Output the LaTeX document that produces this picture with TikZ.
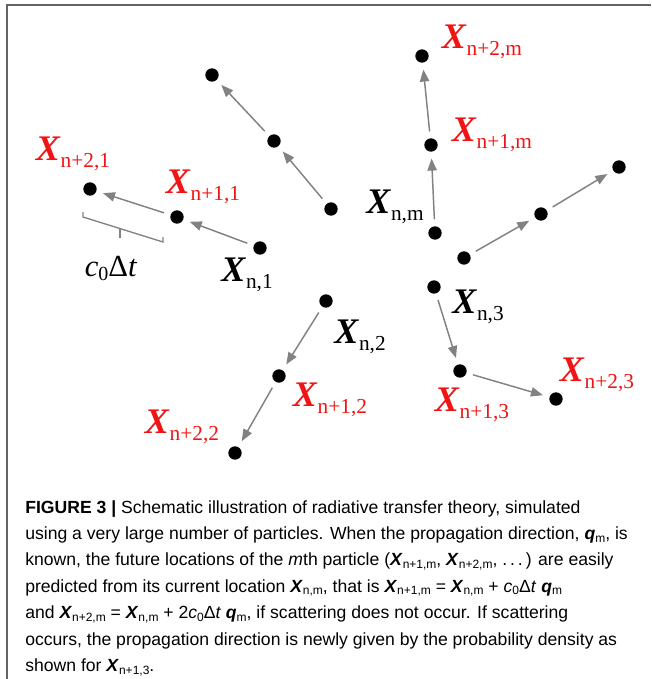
\documentclass[tikz,border=0pt]{standalone}
\usepackage{fontspec}
\setmainfont{Liberation Serif}
\newfontfamily\capfont{Liberation Sans}
\usetikzlibrary{arrows.meta}

\definecolor{arrgray}{RGB}{130,130,130}
\definecolor{framegray}{RGB}{100,100,100}
\definecolor{labred}{RGB}{240,20,20}

% particle labels and caption symbols
\newcommand{\Xn}[1]{\textbf{\textit{X}}\raisebox{-5pt}{\fontsize{16}{16}\selectfont #1}}
\newcommand{\capsub}[1]{\raisebox{-2pt}{\fontsize{9}{9}\selectfont #1}}
\newcommand{\cX}[1]{\textbf{\textit{X}}\capsub{#1}}
\newcommand{\cq}[1]{\textbf{\textit{q}}\capsub{#1}}

\begin{document}
\begin{tikzpicture}[x=0.75pt, y=-0.75pt,
    dot/.style={circle, fill=black, inner sep=0pt, minimum size=10pt},
    move/.style={-{Triangle[length=9pt,width=7pt]}, draw=arrgray, fill=arrgray, line width=1.1pt, shorten <=5pt, shorten >=5pt},
    lab/.style={font=\fontsize{27}{27}\selectfont, inner sep=0pt},
    now/.style={lab, text=black},
    next/.style={lab, text=labred}
]
\useasboundingbox (0,0) rectangle (651,679);
\draw[framegray, line width=1.5pt] (7,679) -- (7,5) -- (651,5);

% particle positions
\node[dot] (a0) at (331,209) {};
\node[dot] (a1) at (274,141) {};
\node[dot] (a2) at (212,75) {};
\node[dot] (m0) at (435,233) {};
\node[dot] (m1) at (431,145) {};
\node[dot] (m2) at (422,56) {};
\node[dot] (r0) at (464,258) {};
\node[dot] (r1) at (541,214) {};
\node[dot] (r2) at (619,167) {};
\node[dot] (p0) at (260,248) {};
\node[dot] (p1) at (177,217) {};
\node[dot] (p2) at (90,189) {};
\node[dot] (q0) at (326,301) {};
\node[dot] (q1) at (279,376) {};
\node[dot] (q2) at (235,453) {};
\node[dot] (s0) at (434,287) {};
\node[dot] (s1) at (460,371) {};
\node[dot] (s2) at (556,399) {};

\foreach \c in {a,m,r,p,q,s}{
    \draw[move] (\c0) -- (\c1);
    \draw[move] (\c1) -- (\c2);
}

% labels
\node[now] (lnm) at (395,207) {\Xn{n,m}};
\node[next] (l1m) at (492,135) {\Xn{n+1,m}};
\node[next] (l2m) at (482,42) {\Xn{n+2,m}};
\node[now] (ln1) at (247,275) {\Xn{n,1}};
\node[next] (l11) at (203,187) {\Xn{n+1,1}};
\node[next] (l21) at (73,154) {\Xn{n+2,1}};
\node[now] (ln2) at (360,337) {\Xn{n,2}};
\node[next] (l12) at (330,400) {\Xn{n+1,2}};
\node[next] (l22) at (182,427) {\Xn{n+2,2}};
\node[now] (ln3) at (478,307) {\Xn{n,3}};
\node[next] (l13) at (472,405) {\Xn{n+1,3}};
\node[next] (l23) at (597,375) {\Xn{n+2,3}};

% step length
\draw[arrgray, line width=1pt] (83,212) -- (83,217) -- (163,242) -- (163,237);
\draw[arrgray, line width=1pt] (120,229) -- (120,238);
\node[font=\fontsize{23}{23}\selectfont, inner sep=0pt] (step) at (111,268) {\textit{c}\raisebox{-3pt}{\fontsize{15}{15}\selectfont 0}Δ\textit{t}};

% caption
\node[anchor=north west, align=left, inner sep=0pt, font=\capfont\fontsize{13.2}{19.8}\selectfont] (cap) at (25,500) {%
\textbf{FIGURE 3 |} Schematic illustration of radiative transfer theory, simulated\\
using a very large number of particles. When the propagation direction, \cq{m}, is\\
known, the future locations of the \textit{m}th particle (\cX{n+1,m}, \cX{n+2,m}, .\,.\,.\,) are easily\\
predicted from its current location \cX{n,m}, that is \cX{n+1,m} = \cX{n,m} + \textit{c}\capsub{0}Δ\textit{t} \cq{m}\\
and \cX{n+2,m} = \cX{n,m} + 2\textit{c}\capsub{0}Δ\textit{t} \cq{m}, if scattering does not occur. If scattering\\
occurs, the propagation direction is newly given by the probability density as\\
shown for \cX{n+1,3}.};
\end{tikzpicture}
\end{document}
